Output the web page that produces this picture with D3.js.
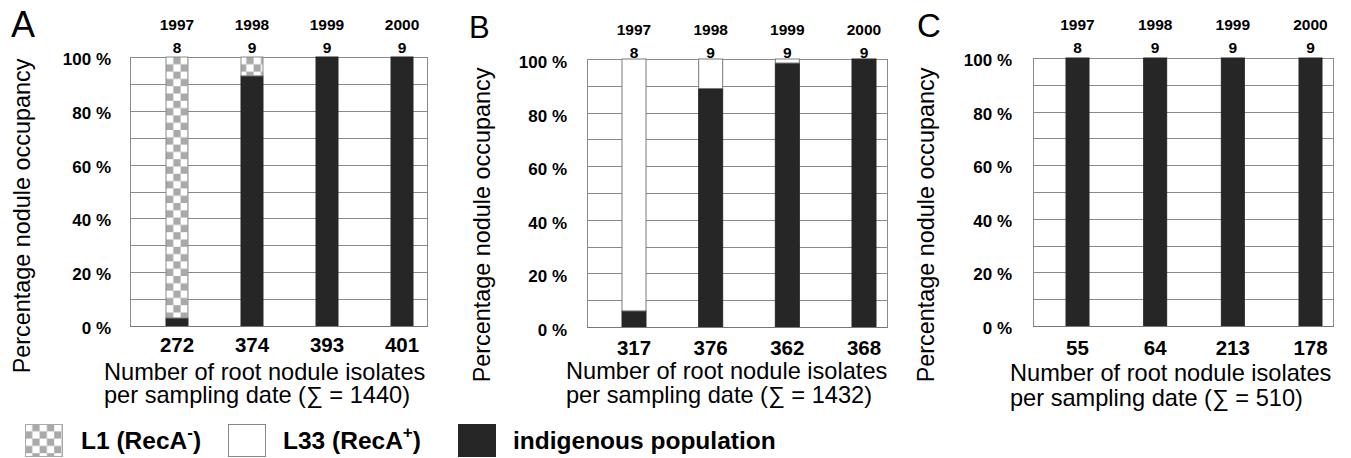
<!DOCTYPE html>
<html>
<head>
<meta charset="utf-8">
<script src="https://cdn.jsdelivr.net/npm/d3@7"></script>
<style>
  body { margin: 0; background: #fff; }
  svg { display: block; font-family: "Liberation Sans", Arial, sans-serif; }
</style>
</head>
<body>
<svg width="1351" height="458"></svg>
<script>
// values
var years = ["1997", "1998", "1999", "2000"];
var plotCounts = [8, 9, 9, 9];

var isolatesA = [272, 374, 393, 401];
var isolatesB = [317, 376, 362, 368];
var isolatesC = [55, 64, 213, 178];
var totals = [1440, 1432, 510];

var indigenousA = [3, 93, 100, 100];
var l1A = [97, 7, 0, 0];
var l33A = [0, 0, 0, 0];

var indigenousB = [6, 89, 98.5, 100];
var l1B = [0, 0, 0, 0];
var l33B = [94, 11, 1.5, 0];

var indigenousC = [100, 100, 100, 100];
var l1C = [0, 0, 0, 0];
var l33C = [0, 0, 0, 0];

var legendLabels = ["L1 (RecA", "L33 (RecA", "indigenous population"];
var legendSups = ["-", "+", ""];

var svg = d3.select("svg");
var dark = "#262626";
var gridCol = "#8a8a8a";
var cell = 7.3;

function rows(indig, l1, l33) {
  return years.map(function(y, i) {
    return { year: y, indig: indig[i], l1: l1[i], l33: l33[i] };
  });
}

// layout of each panel (pixels)
var panels = [
  { letter: "A", lx: 11, ly: 37, ls: 36,
    l: 130, r: 427, t: 57, b: 326, band: [166, 413], pad: 0.707,
    data: rows(indigenousA, l1A, l33A), isolates: isolatesA, total: totals[0],
    ytx: 30, yty: 216, tickRight: 111, tickDy: 8,
    yearBase: 30, plotBase: 53, countBase: 352, titleX: 104, t1: 380, t2: 403 },
  { letter: "B", lx: 469, ly: 38, ls: 31,
    l: 587, r: 887, t: 59, b: 327, band: [622, 876], pad: 0.687,
    data: rows(indigenousB, l1B, l33B), isolates: isolatesB, total: totals[1],
    ytx: 490, yty: 225, tickRight: 567, tickDy: 9,
    yearBase: 35, plotBase: 58, countBase: 355, titleX: 566, t1: 379, t2: 403 },
  { letter: "C", lx: 917, ly: 37, ls: 33,
    l: 1033, r: 1333, t: 58, b: 326, band: [1066, 1322], pad: 0.704,
    data: rows(indigenousC, l1C, l33C), isolates: isolatesC, total: totals[2],
    ytx: 934, yty: 225, tickRight: 1012, tickDy: 8,
    yearBase: 30, plotBase: 53, countBase: 355, titleX: 1010, t1: 381, t2: 406 }
];

var defs = svg.append("defs");
function checker(id, x0, y0) {
  var p = defs.append("pattern")
    .attr("id", id)
    .attr("patternUnits", "userSpaceOnUse")
    .attr("x", x0).attr("y", y0)
    .attr("width", cell * 2).attr("height", cell * 2);
  p.append("rect").attr("width", cell * 2).attr("height", cell * 2).attr("fill", "#fff");
  p.append("rect").attr("x", cell).attr("y", 0).attr("width", cell).attr("height", cell).attr("fill", "#a9a9a9");
  p.append("rect").attr("x", 0).attr("y", cell).attr("width", cell).attr("height", cell).attr("fill", "#a9a9a9");
}

var stack = d3.stack().keys(["indig", "l1", "l33"]);

panels.forEach(function(P, pi) {
  var g = svg.append("g");
  var x = d3.scaleBand().domain(years).range(P.band).paddingInner(P.pad).paddingOuter(0);
  var y = d3.scaleLinear().domain([0, 100]).range([P.b, P.t]);

  checker("chk" + pi, x(years[0]), P.t);

  // grid every 10 %
  g.append("g").selectAll("line")
    .data(y.ticks(10))
    .enter().append("line")
      .attr("x1", P.l).attr("x2", P.r)
      .attr("y1", function(d) { return Math.round(y(d)) + 0.5; })
      .attr("y2", function(d) { return Math.round(y(d)) + 0.5; })
      .attr("stroke", gridCol).attr("stroke-width", 1);
  g.append("line").attr("x1", P.l + 0.5).attr("x2", P.l + 0.5).attr("y1", P.t).attr("y2", P.b)
    .attr("stroke", gridCol);
  g.append("line").attr("x1", P.r + 0.5).attr("x2", P.r + 0.5).attr("y1", P.t).attr("y2", P.b)
    .attr("stroke", gridCol);

  // tick labels every 20 %
  g.append("g").selectAll("text")
    .data(y.ticks(5))
    .enter().append("text")
      .attr("x", P.tickRight)
      .attr("y", function(d) { return y(d) + P.tickDy; })
      .attr("text-anchor", "end")
      .attr("font-weight", "bold").attr("font-size", 17)
      .text(function(d) { return d + " %"; });

  // stacked bars
  var fills = { indig: dark, l1: "url(#chk" + pi + ")", l33: "#fff" };
  var strokes = { indig: dark, l1: "#8a8a8a", l33: "#7a7a7a" };
  var series = stack(P.data);
  g.append("g").selectAll("g")
    .data(series)
    .enter().append("g")
      .attr("fill", function(s) { return fills[s.key]; })
      .attr("stroke", function(s) { return strokes[s.key]; })
    .selectAll("rect")
    .data(function(s) { return s.filter(function(d) { return d[1] > d[0]; }); })
    .enter().append("rect")
      .attr("x", function(d) { return x(d.data.year); })
      .attr("width", x.bandwidth())
      .attr("y", function(d) { return y(d[1]); })
      .attr("height", function(d) { return y(d[0]) - y(d[1]); });

  g.append("line").attr("x1", P.l).attr("x2", P.r + 1).attr("y1", P.b + 0.5).attr("y2", P.b + 0.5)
    .attr("stroke", "#777");

  // years and number of plots above
  var cx = function(d, i) { return x(years[i]) + x.bandwidth() / 2; };
  g.append("g").selectAll("text").data(years).enter().append("text")
    .attr("x", cx).attr("y", P.yearBase)
    .attr("text-anchor", "middle").attr("font-weight", "bold").attr("font-size", 15.5)
    .text(function(d) { return d; });
  g.append("g").selectAll("text").data(plotCounts).enter().append("text")
    .attr("x", cx).attr("y", P.plotBase)
    .attr("text-anchor", "middle").attr("font-weight", "bold").attr("font-size", 15.5)
    .text(function(d) { return d; });

  // isolates below
  g.append("g").selectAll("text").data(P.isolates).enter().append("text")
    .attr("x", cx).attr("y", P.countBase)
    .attr("text-anchor", "middle").attr("font-weight", "bold").attr("font-size", 20.5)
    .text(function(d) { return d; });

  g.append("text").attr("x", P.titleX).attr("y", P.t1).attr("font-size", 23.6)
    .text("Number of root nodule isolates");
  g.append("text").attr("x", P.titleX).attr("y", P.t2).attr("font-size", 23.6)
    .text("per sampling date (\u2211 = " + P.total + ")");

  g.append("text")
    .attr("transform", "translate(" + P.ytx + "," + P.yty + ")rotate(-90)")
    .attr("text-anchor", "middle").attr("font-size", 23.4)
    .text("Percentage nodule occupancy");

  g.append("text").attr("x", P.lx).attr("y", P.ly).attr("font-size", P.ls).text(P.letter);
});

// legend
checker("chkLegend", 25, 424);
var legendBoxes = [
  { x: 25, fill: "url(#chkLegend)", stroke: "#aaa", tx: 81 },
  { x: 228, fill: "#fff", stroke: "#888", tx: 283 },
  { x: 458, fill: dark, stroke: dark, tx: 513 }
];
var lg = svg.append("g").selectAll("g").data(legendBoxes).enter().append("g");
lg.append("rect")
  .attr("x", function(d) { return d.x + 0.5; }).attr("y", 424.5)
  .attr("width", 37).attr("height", 32)
  .attr("fill", function(d) { return d.fill; })
  .attr("stroke", function(d) { return d.stroke; });
var lt = lg.append("text")
  .attr("x", function(d) { return d.tx; }).attr("y", 449)
  .attr("font-weight", "bold").attr("font-size", 24.5);
lt.append("tspan").text(function(d, i) { return legendLabels[i]; });
lt.each(function(d, i) {
    if (legendSups[i] === "") return;
    var t = d3.select(this);
    t.append("tspan").attr("dy", -11).attr("font-size", 17).text(legendSups[i]);
    t.append("tspan").attr("dy", 11).text(")");
  });
</script>
</body>
</html>
